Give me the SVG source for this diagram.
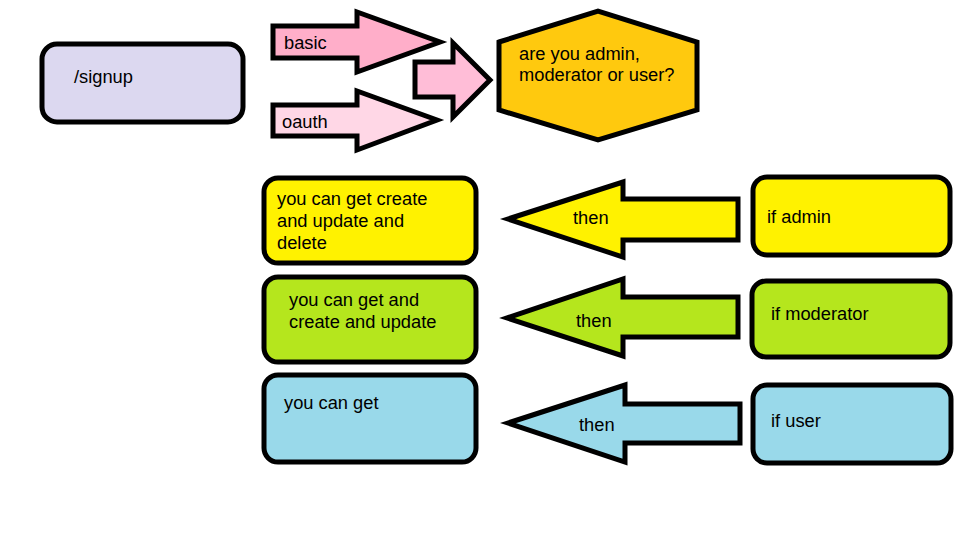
<svg xmlns="http://www.w3.org/2000/svg" width="959" height="547" viewBox="0 0 959 547">
<style>
  .s { stroke: #000; stroke-width: 5; stroke-linejoin: miter; }
  .t { font-family: "Liberation Sans", Arial, sans-serif; font-size: 18.3px; fill: #000; }
</style>
<rect width="959" height="547" fill="#fff"/>
<g id="connectors">
  <polygon id="arrow-basic" class="s" fill="#ffaec9" points="273,26 357,26 357,12 440,42 357,72 357,58 273,58"/>
  <polygon id="arrow-oauth" class="s" fill="#ffd7e6" points="273,105 357,105 357,91 437,120 357,150 357,136 273,136"/>
  <polygon id="arrow-merge" class="s" fill="#ffbdd7" points="415,62 453,62 453,43 490,80 453,117 453,97 415,97"/>
  <polygon id="arrow-admin" class="s" fill="#fff200" points="738,199 623,199 623,182 508,219 623,257 623,240 738,240"/>
  <polygon id="arrow-moderator" class="s" fill="#b5e61d" points="738,297 623,297 623,279 507,318 623,356 623,337 738,337"/>
  <polygon id="arrow-user" class="s" fill="#99d9ea" points="740,404 625,404 625,385 508,423 625,462 625,443 740,443"/>
  <text class="t" x="284" y="49">basic</text>
  <text class="t" x="282" y="128">oauth</text>
  <text class="t" x="573" y="224">then</text>
  <text class="t" x="576" y="327">then</text>
  <text class="t" x="579" y="431">then</text>
</g>
<g id="signup">
  <rect class="s" x="42" y="44" width="201" height="78" rx="15" fill="#dcd8f0"/>
  <text class="t" x="74" y="83">/signup</text>
</g>
<g id="question">
  <polygon class="s" fill="#ffc90e" points="499,42 598,11 697,42 697,110 598,140 499,110"/>
  <text class="t" x="519" y="60">are you admin,</text>
  <text class="t" x="519" y="81">moderator or user?</text>
</g>
<g id="admin-result">
  <rect class="s" x="264" y="178" width="212" height="85" rx="14" fill="#fff200"/>
  <text class="t" x="277" y="205">you can get create</text>
  <text class="t" x="277" y="227">and update and</text>
  <text class="t" x="277" y="249">delete</text>
</g>
<g id="if-admin">
  <rect class="s" x="753" y="177" width="197" height="78" rx="14" fill="#fff200"/>
  <text class="t" x="767" y="223">if admin</text>
</g>
<g id="moderator-result">
  <rect class="s" x="264" y="277" width="212" height="85" rx="14" fill="#b5e61d"/>
  <text class="t" x="289" y="306">you can get and</text>
  <text class="t" x="289" y="328">create and update</text>
</g>
<g id="if-moderator">
  <rect class="s" x="752" y="281" width="198" height="76" rx="14" fill="#b5e61d"/>
  <text class="t" x="771" y="320">if moderator</text>
</g>
<g id="user-result">
  <rect class="s" x="264" y="375" width="212" height="87" rx="14" fill="#99d9ea"/>
  <text class="t" x="284" y="409">you can get</text>
</g>
<g id="if-user">
  <rect class="s" x="753" y="385" width="198" height="78" rx="14" fill="#99d9ea"/>
  <text class="t" x="771" y="427">if user</text>
</g>
</svg>
